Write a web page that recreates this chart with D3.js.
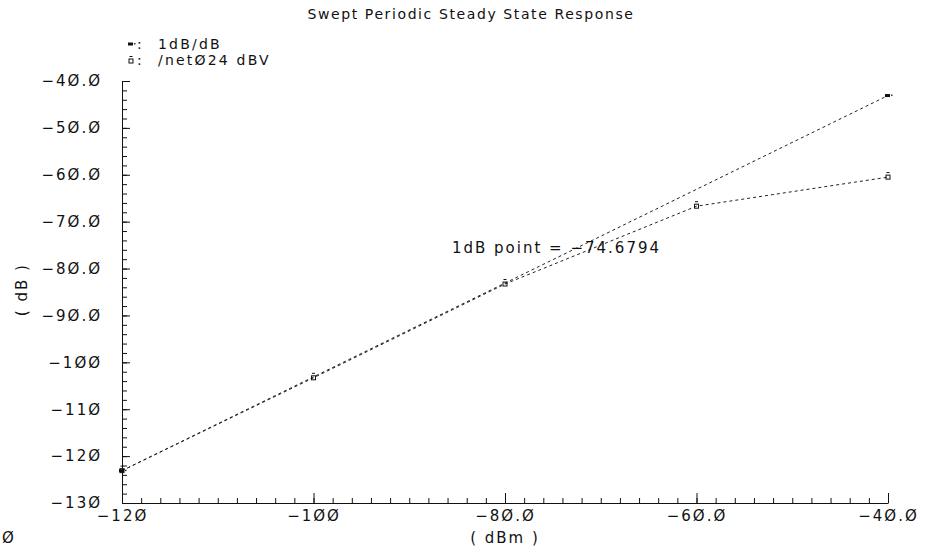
<!DOCTYPE html>
<html>
<head>
<meta charset="utf-8">
<script src="https://cdn.jsdelivr.net/npm/d3@7"></script>
<style>
  html, body { margin: 0; padding: 0; background: #fff; }
  svg { display: block; }
  text { font-family: "DejaVu Sans", sans-serif; fill: #111; }
</style>
</head>
<body>
<svg id="chart" width="941" height="551"></svg>
<script>
// Input power sweep (dBm)
const inputPower = [-120, -100, -80, -60, -40];
// Measured fundamental output at /net024 (dBV)
const netOutput = [-123.1, -103.3, -83.3, -66.7, -60.5];
// Ideal 1 dB/dB extrapolation line, end points
const refInput = [-120, -40];
const refOutput = [-123.1, -43.1];
// Compression point reported by the calculator
const compressionPoint = -74.6794;

const seriesNames = ["1dB/dB", "/net024 dBV"];
const xTicks = [-120, -100, -80, -60, -40];
const yTicks = [-40, -50, -60, -70, -80, -90, -100, -110, -120, -130];

// Plot font draws zero with a slash
const slashZero = s => s.replace(/0/g, "\u00D8");
const fmt = v => slashZero(d3.format(".3r")(v));

const svg = d3.select("#chart");
const x = d3.scaleLinear().domain([-120, -40]).range([122, 888]);
const y = d3.scaleLinear().domain([-130, -40]).range([503, 81]);

const axisColor = "#111";
const labelStyle = sel => sel.attr("font-size", 15).attr("letter-spacing", 2);

// Title
svg.append("text")
  .attr("x", 471).attr("y", 19)
  .attr("text-anchor", "middle")
  .attr("font-size", 14).attr("letter-spacing", 1.6)
  .text("Swept Periodic Steady State Response");

// Minor ticks (every 2 units)
svg.append("g")
  .attr("transform", `translate(0,${y(-130)})`)
  .call(d3.axisBottom(x).tickValues(d3.range(-120, -39, 2)).tickSizeInner(-5).tickSizeOuter(0).tickFormat(""))
  .call(g => g.select(".domain").remove())
  .selectAll("line").attr("stroke", axisColor);
svg.append("g")
  .attr("transform", `translate(${x(-120)},0)`)
  .call(d3.axisLeft(y).tickValues(d3.range(-130, -39, 2)).tickSizeInner(-5).tickSizeOuter(0).tickFormat(""))
  .call(g => g.select(".domain").remove())
  .selectAll("line").attr("stroke", axisColor);

// Major x axis
const gx = svg.append("g")
  .attr("transform", `translate(0,${y(-130)})`)
  .call(d3.axisBottom(x).tickValues(xTicks).tickSizeInner(-10).tickSizeOuter(0).tickPadding(7).tickFormat(fmt));
gx.select(".domain").attr("stroke", axisColor);
gx.selectAll("line").attr("stroke", axisColor);
gx.selectAll("text").attr("font-family", null).call(labelStyle);

// Major y axis
const gy = svg.append("g")
  .attr("transform", `translate(${x(-120)},0)`)
  .call(d3.axisLeft(y).tickValues(yTicks).tickSizeInner(-8).tickSizeOuter(0).tickPadding(20).tickFormat(fmt));
gy.select(".domain").attr("stroke", axisColor);
gy.selectAll("line").attr("stroke", axisColor);
gy.selectAll("text").attr("font-family", null).call(labelStyle);

// Axis titles
svg.append("text")
  .attr("x", x(-80)).attr("y", 543)
  .attr("text-anchor", "middle")
  .call(labelStyle)
  .text("( dBm )");
svg.append("text")
  .attr("transform", `translate(27,${y(-84.5)}) rotate(-90)`)
  .attr("text-anchor", "middle")
  .call(labelStyle)
  .text("( dB )");

// Clipped label at the lower-left edge
svg.append("text")
  .attr("x", 2).attr("y", 543)
  .call(labelStyle)
  .text("\u00D8");

// Traces
const line = d3.line().x(d => x(d[0])).y(d => y(d[1]));
const refPts = d3.zip(refInput, refOutput);
const netPts = d3.zip(inputPower, netOutput);

svg.append("path")
  .datum(refPts)
  .attr("d", line)
  .attr("fill", "none").attr("stroke", "#222").attr("stroke-width", 1)
  .attr("stroke-dasharray", "3,3");
svg.append("path")
  .datum(netPts)
  .attr("d", line)
  .attr("fill", "none").attr("stroke", "#222").attr("stroke-width", 1)
  .attr("stroke-dasharray", "3,3");

// Markers
function markerRef(g, cx, cy) {
  g.append("rect").attr("x", cx - 3).attr("y", cy - 1.5).attr("width", 5).attr("height", 3).attr("fill", "#111");
  g.append("rect").attr("x", cx + 3).attr("y", cy - 1).attr("width", 1.5).attr("height", 1.5).attr("fill", "#333");
}
function markerNet(g, cx, cy) {
  g.append("rect").attr("x", cx - 2).attr("y", cy - 2).attr("width", 4).attr("height", 4)
    .attr("fill", "none").attr("stroke", "#111").attr("stroke-width", 1);
  g.append("line").attr("x1", cx - 1.5).attr("x2", cx + 1.5).attr("y1", cy - 4.5).attr("y2", cy - 4.5)
    .attr("stroke", "#111");
}
const gm = svg.append("g");
refPts.forEach(d => markerRef(gm, x(d[0]), y(d[1])));
netPts.forEach(d => markerNet(gm, x(d[0]), y(d[1])));

// Legend
const legend = svg.append("g");
seriesNames.forEach((name, i) => {
  const ly = 44 + i * 16;
  if (i === 0) markerRef(legend, 131, ly); else markerNet(legend, 131, ly + 1);
  legend.append("text").attr("x", 137).attr("y", ly + 5).attr("font-size", 14).attr("letter-spacing", 2).text(":");
  legend.append("text").attr("x", 158).attr("y", ly + 5).attr("font-size", 14).attr("letter-spacing", 2.2).text(slashZero(name));
});

// Compression point annotation
svg.append("text")
  .attr("x", x(compressionPoint) - 104).attr("y", y(-80) - 16)
  .call(labelStyle)
  .text("1dB point = " + d3.format(".6r")(compressionPoint));
</script>
</body>
</html>
